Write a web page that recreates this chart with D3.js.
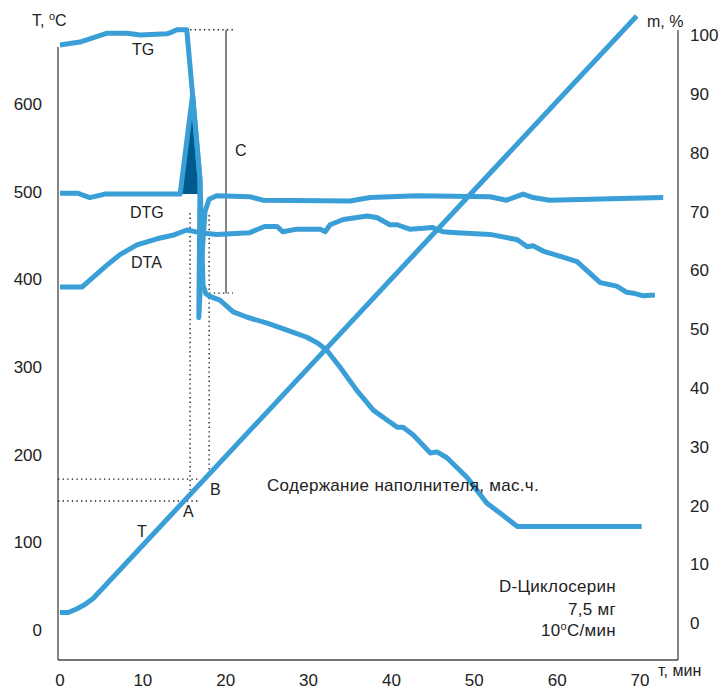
<!DOCTYPE html>
<html><head><meta charset="utf-8">
<script src="https://cdn.jsdelivr.net/npm/d3@7"></script>
<style>
body{margin:0;background:#fff;}
text{font-family:"Liberation Sans",Arial,Helvetica,sans-serif;fill:#222;}
</style></head>
<body><svg id="c" width="724" height="691"></svg>
<script>
// ---- data ----
const timeTicks = [0,10,20,30,40,50,60,70];
const tempTicks = [0,100,200,300,400,500,600];
const massTicks = [0,10,20,30,40,50,60,70,80,90,100];

// Temperature (T, °C) vs time
const tTime = [0,1,2,3,4,69.6];
const tTemp = [20,20,24,29,36,700];

// TG (m, %) vs time
const tgTime = [0,2.4,5.7,8.1,9.7,12.9,13.5,14.1,15.3,16.0,16.9,17.26,17.6,18.0,19.3,20.9,22.6,25.0,27.4,29.8,31.1,32.2,33.8,35.8,37.8,39.0,40.7,41.4,42.6,44.7,45.5,46.7,49.1,50.3,51.5,53.1,55.2,70.2];
const tgMass = [98.3,98.8,100.3,100.3,100,100.2,100.5,100.9,100.9,89.9,75.3,57.5,56.0,55.6,54.9,52.9,52.0,51.0,49.8,48.6,47.6,46.4,43.5,39.6,36.2,35.0,33.3,33.3,32.0,28.9,29.1,28.1,24.8,22.6,20.4,18.7,16.4,16.4];

// DTG signal (drawn in T-axis units)
const dtgTime = [0,2.1,3.6,5.4,14.5,16.0,16.9,16.75,17.1,17.5,18.0,18.9,22.9,24.5,35.0,37.4,43.1,51.9,53.9,55.9,57.1,59.1,72.8];
const dtgValue = [498,498,493,497,497,610,513,356,422,477,491,495,494,490,489,493,495,494,490,497,493,490,493];
// DTG exothermic peak (filled)
const peakTime = [14.5,16.0,17.0];
const peakValue = [497,610,497];

// DTA signal (drawn in T-axis units)
const dtaTime = [0,2.65,3.98,5.67,7.24,9.29,11.7,13.6,15.3,16.9,18.9,22.9,24.7,26.2,26.9,28.6,31.4,32.0,32.6,34.2,37.1,38.3,39.8,40.7,42.2,43.8,44.9,46.2,47.9,51.9,55.2,56.4,57.1,58.3,60.7,62.4,63.1,65.2,67.2,68.4,69.2,70.4,71.8];
const dtaValue = [391,391,402,416,428,439,446,450,456,453,451,453,460,460,454,457,457,454,462,468,472,470,462,462,457,458,459,454,453,451,445,437,438,432,425,420,414,396,392,385,384,381,382];

// Marked points A, B and mass step C
const pointA = {time:15.7, temp:147};
const pointB = {time:18.0, temp:172};
const stepC = {top:100.9, bottom:56.1};

// ---- scales ----
const svg = d3.select('#c');
const x = d3.scaleLinear().domain([0,70]).range([60,640]);
const yT = d3.scaleLinear().domain([0,700]).range([630,16]);
const yM = d3.scaleLinear().domain([0,100]).range([623,35]);

const blue = '#3a9fd6', dark = '#005a8c', axisC = '#444';

// axes frame
svg.append('line').attr('x1',58).attr('x2',58).attr('y1',47).attr('y2',660).attr('stroke',axisC).attr('stroke-width',1.3);
svg.append('line').attr('x1',58).attr('x2',678).attr('y1',660).attr('y2',660).attr('stroke',axisC).attr('stroke-width',1.3);
svg.append('line').attr('x1',678).attr('x2',678).attr('y1',30).attr('y2',660).attr('stroke',axisC).attr('stroke-width',1.3);

// axis tick labels
svg.selectAll('.lt').data(tempTicks).enter().append('text')
  .attr('x',42).attr('y',d=>yT(d)).attr('dy','0.36em').attr('text-anchor','end')
  .attr('font-size',17).text(d=>d);
svg.selectAll('.rt').data(massTicks).enter().append('text')
  .attr('x',690).attr('y',d=>yM(d)).attr('dy','0.36em').attr('text-anchor','start')
  .attr('font-size',17).text(d=>d);
svg.selectAll('.bt').data(timeTicks).enter().append('text')
  .attr('x',d=>x(d)).attr('y',686).attr('text-anchor','middle')
  .attr('font-size',17).text(d=>d);

// axis titles
const tl = svg.append('text').attr('x',32).attr('y',26).attr('font-size',16);
tl.append('tspan').text('T, ');
tl.append('tspan').attr('font-size',11).attr('dy',-6).text('o');
tl.append('tspan').attr('dy',6).text('C');
svg.append('text').attr('x',647).attr('y',27).attr('font-size',16).text('m, %');
svg.append('text').attr('x',658).attr('y',676).attr('font-size',16).text('т, мин');

// dotted guides
const dot = (x1,y1,x2,y2)=>svg.append('line').attr('x1',x1).attr('y1',y1).attr('x2',x2).attr('y2',y2)
  .attr('stroke','#222').attr('stroke-width',1.4).attr('stroke-dasharray','1.4,3.2');
dot(58,yT(pointA.temp),199,yT(pointA.temp));
dot(58,yT(pointB.temp),200,yT(pointB.temp));
dot(x(pointA.time),213,x(pointA.time),490);
dot(x(pointB.time),215,x(pointB.time),470);
dot(x(pointA.time),yM(stepC.top),233,yM(stepC.top));
dot(x(pointB.time),yM(stepC.bottom),233,yM(stepC.bottom));
svg.append('line').attr('x1',226).attr('x2',226).attr('y1',yM(stepC.top)).attr('y2',yM(stepC.bottom))
  .attr('stroke',axisC).attr('stroke-width',1.3);

// filled DTG peak
const peak = peakTime.map((t,i)=>[t,peakValue[i]]);
svg.append('path').datum(peak)
  .attr('d',d3.area().x(d=>x(d[0])).y0(yT(497)).y1(d=>yT(d[1])))
  .attr('fill',dark);

const lineT = d3.line().x(d=>x(d[0])).y(d=>yT(d[1]));
const lineM = d3.line().x(d=>x(d[0])).y(d=>yM(d[1]));
const zip = (a,b)=>a.map((v,i)=>[v,b[i]]);
const styleLine = p=>p.attr('fill','none').attr('stroke',blue).attr('stroke-width',5)
  .attr('stroke-linejoin','round');

styleLine(svg.append('path').datum(zip(dtaTime,dtaValue)).attr('d',lineT));
styleLine(svg.append('path').datum(zip(dtgTime,dtgValue)).attr('d',lineT));
styleLine(svg.append('path').datum(zip(tgTime,tgMass)).attr('d',lineM));
styleLine(svg.append('path').datum(zip(tTime,tTemp)).attr('d',lineT));

// labels
const lab = (tx,ty,s,anchor,fs,ls)=>svg.append('text').attr('x',tx).attr('y',ty).attr('font-size',fs||16)
  .attr('letter-spacing',ls||0).attr('text-anchor',anchor||'start').text(s);
lab(132,55,'TG');
lab(130,218,'DTG');
lab(131,268,'DTA');
lab(235,156,'C');
lab(183,517,'A');
lab(210,495,'B');
lab(137,537,'T');
lab(267,491,'Содержание наполнителя, мас.ч.','start',17,0.3);
lab(616,592,'D-Циклосерин','end',17,0.3);
lab(616,615,'7,5 мг','end',17,0.3);
const r = svg.append('text').attr('x',616).attr('y',636).attr('font-size',17).attr('letter-spacing',0.3).attr('text-anchor','end');
r.append('tspan').text('10');
r.append('tspan').attr('font-size',11).attr('dy',-6).text('o');
r.append('tspan').attr('dy',6).text('C/мин');
</script></body></html>
